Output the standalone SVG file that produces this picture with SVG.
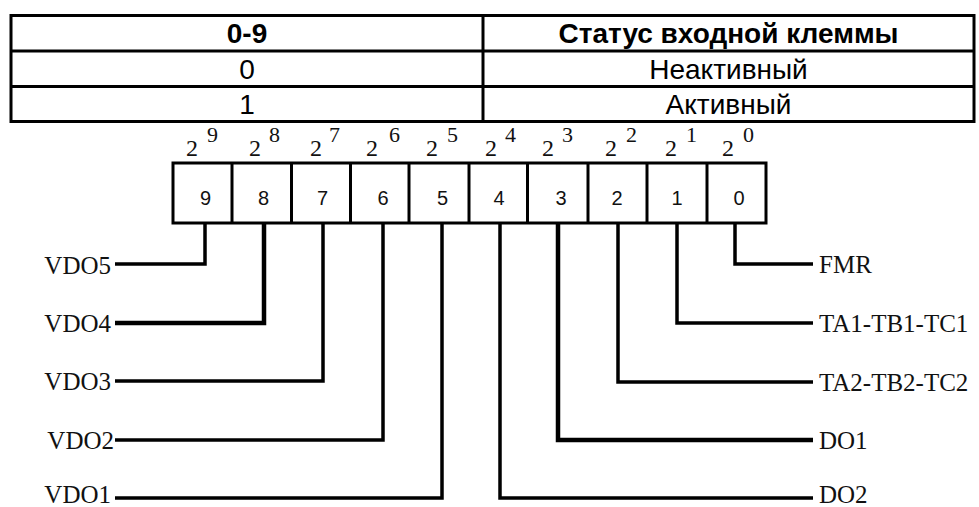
<svg xmlns="http://www.w3.org/2000/svg" width="979" height="507" viewBox="0 0 979 507">
<style>
.tl{stroke:#000;stroke-width:3;fill:none}
.th{font-family:"Liberation Sans",Arial,sans-serif;font-weight:bold;font-size:28px;text-anchor:middle;fill:#000}
.td{font-family:"Liberation Sans",Arial,sans-serif;font-size:28px;text-anchor:middle;fill:#000}
.cell{stroke:#000;stroke-width:3;fill:#fff}
.dig{font-family:"Liberation Sans",Arial,sans-serif;font-size:20px;text-anchor:middle;fill:#111}
.pw{font-family:"Liberation Serif","Times New Roman",serif;font-size:24px;fill:#111}
.pw tspan{font-size:22px}
.sig{font-family:"Liberation Serif","Times New Roman",serif;font-size:25px;fill:#111}
.sl{text-anchor:end}
.con{stroke:#000;stroke-width:3.5;fill:none}
.thick{stroke-width:4.5}
</style>
<rect width="979" height="507" fill="#fff"/>
<g id="table">
<rect class="tl" x="11" y="15.5" width="963" height="106"/>
<line class="tl" x1="11" y1="51" x2="974" y2="51"/>
<line class="tl" x1="11" y1="86.5" x2="974" y2="86.5"/>
<line class="tl" x1="483" y1="15.5" x2="483" y2="121.5"/>
<text class="th" x="247" y="43">0-9</text>
<text class="th" x="728.5" y="43">Статус входной клеммы</text>
<text class="td" x="247" y="79">0</text>
<text class="td" x="728.5" y="79">Неактивный</text>
<text class="td" x="247" y="114">1</text>
<text class="td" x="728.5" y="114">Активный</text>
</g>
<g id="register">
<rect class="cell" x="173" y="163" width="593" height="60"/>
<g id="bit9"><text class="pw" x="186" y="156">2<tspan x="207" y="142" font-size="22">9</tspan></text><text class="dig" x="205.5" y="205">9</text></g>
<g id="bit8"><line class="tl" x1="232" y1="163" x2="232" y2="223"/><text class="pw" x="249" y="156">2<tspan x="269" y="142" font-size="22">8</tspan></text><text class="dig" x="263.5" y="205">8</text></g>
<g id="bit7"><line class="tl" x1="291.5" y1="163" x2="291.5" y2="223"/><text class="pw" x="310" y="156">2<tspan x="329" y="142" font-size="22">7</tspan></text><text class="dig" x="322.5" y="205">7</text></g>
<g id="bit6"><line class="tl" x1="350.5" y1="163" x2="350.5" y2="223"/><text class="pw" x="366" y="156">2<tspan x="389" y="142" font-size="22">6</tspan></text><text class="dig" x="383" y="205">6</text></g>
<g id="bit5"><line class="tl" x1="409" y1="163" x2="409" y2="223"/><text class="pw" x="426" y="156">2<tspan x="447" y="142" font-size="22">5</tspan></text><text class="dig" x="442.5" y="205">5</text></g>
<g id="bit4"><line class="tl" x1="469" y1="163" x2="469" y2="223"/><text class="pw" x="485" y="156">2<tspan x="505" y="142" font-size="22">4</tspan></text><text class="dig" x="499" y="205">4</text></g>
<g id="bit3"><line class="tl" x1="527.5" y1="163" x2="527.5" y2="223"/><text class="pw" x="542" y="156">2<tspan x="562" y="142" font-size="22">3</tspan></text><text class="dig" x="561" y="205">3</text></g>
<g id="bit2"><line class="tl" x1="588" y1="163" x2="588" y2="223"/><text class="pw" x="605" y="156">2<tspan x="626" y="142" font-size="22">2</tspan></text><text class="dig" x="617" y="205">2</text></g>
<g id="bit1"><line class="tl" x1="647" y1="163" x2="647" y2="223"/><text class="pw" x="665" y="156">2<tspan x="686" y="142" font-size="22">1</tspan></text><text class="dig" x="677" y="205">1</text></g>
<g id="bit0"><line class="tl" x1="707" y1="163" x2="707" y2="223"/><text class="pw" x="722" y="156">2<tspan x="743" y="142" font-size="22">0</tspan></text><text class="dig" x="739" y="205">0</text></g>
</g>
<g id="connectors">
<path class="con" d="M205,223 V264 H115"/>
<path class="con thick" d="M264,223 V323 H115"/>
<path class="con" d="M323,223 V381 H115"/>
<path class="con" d="M383,223 V440 H115"/>
<path class="con" d="M442,223 V498 H115"/>
<path class="con" d="M500,223 V498 H813"/>
<path class="con thick" d="M558,223 V440 H813"/>
<path class="con" d="M618,223 V382 H813"/>
<path class="con" d="M677,223 V323 H813"/>
<path class="con" d="M735,223 V264 H813"/>
</g>
<g id="VDO5"><text class="sig sl" x="111" y="274">VDO5</text></g>
<g id="VDO4"><text class="sig sl" x="111" y="332">VDO4</text></g>
<g id="VDO3"><text class="sig sl" x="111" y="390">VDO3</text></g>
<g id="VDO2"><text class="sig sl" x="114" y="449">VDO2</text></g>
<g id="VDO1"><text class="sig sl" x="111" y="503">VDO1</text></g>
<g id="FMR"><text class="sig" x="819" y="273">FMR</text></g>
<g id="TA1"><text class="sig" x="819" y="332">TA1-TB1-TC1</text></g>
<g id="TA2"><text class="sig" x="819" y="391">TA2-TB2-TC2</text></g>
<g id="DO1"><text class="sig" x="819" y="449">DO1</text></g>
<g id="DO2"><text class="sig" x="819" y="503">DO2</text></g>
</svg>
